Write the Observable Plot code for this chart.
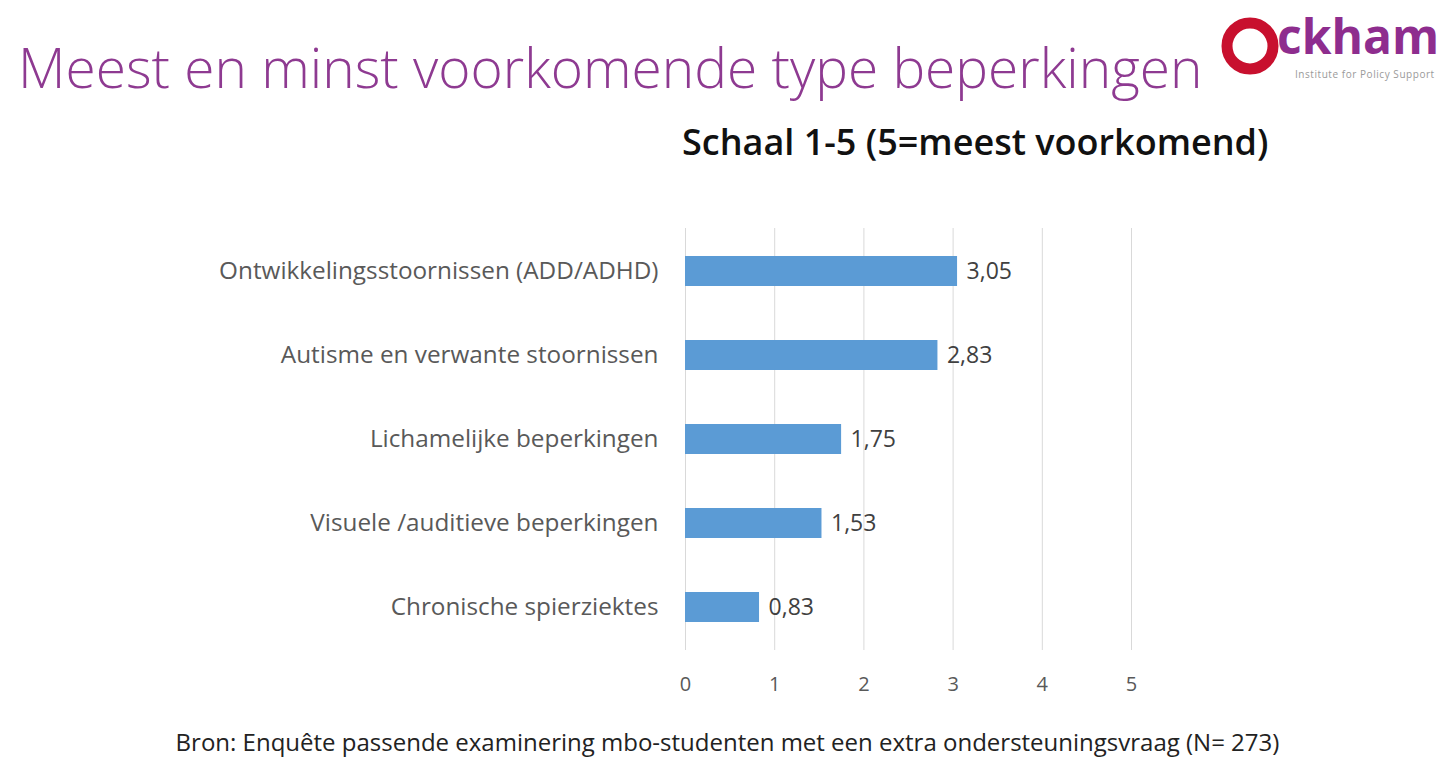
<!DOCTYPE html>
<html>
<head>
<meta charset="utf-8">
<script src="https://cdn.jsdelivr.net/npm/d3@7"></script>
<script src="https://cdn.jsdelivr.net/npm/@observablehq/plot@0.6"></script>
<style>
  html, body { margin: 0; padding: 0; background: #fff; }
  body { width: 1455px; height: 759px; position: relative; overflow: hidden; font-family: "Open Sans", Lato, sans-serif; }
  #title { position: absolute; left: 18px; top: 37px; font-size: 55px; line-height: 60px; font-weight: 300; color: #8E3A91; white-space: nowrap; }
  #subtitle { position: absolute; left: 682px; top: 122px; font-size: 36px; line-height: 40px; font-weight: 600; color: #111; white-space: nowrap; }
  #chart { position: absolute; left: 0; top: 215px; }
  #caption { position: absolute; left: 0; width: 1455px; top: 728px; line-height: 28px; text-align: center; font-size: 24px; color: #222; white-space: nowrap; }
  #ring { position: absolute; left: 1210px; top: 10px; }
  #ckham { position: absolute; left: 1277px; top: 16px; font-size: 48px; line-height: 40px; height: 40px; font-weight: 700; color: #8E2D8E; white-space: nowrap; letter-spacing: 0px; }
  #ips { position: absolute; left: 1295px; top: 69px; font-size: 10px; line-height: 11px; color: #9a9a9a; white-space: nowrap; letter-spacing: 0.55px; }
</style>
</head>
<body>
<div id="title">Meest en minst voorkomende type beperkingen</div>
<svg id="ring" width="70" height="75" viewBox="0 0 70 75">
  <circle cx="40" cy="36" r="23" fill="none" stroke="#C8102E" stroke-width="11"/>
</svg>
<div id="ckham">ckham</div>
<div id="ips">Institute for Policy Support</div>
<div id="subtitle">Schaal 1-5 (5=meest voorkomend)</div>
<div id="chart"></div>
<div id="caption">Bron: Enquête passende examinering mbo-studenten met een extra ondersteuningsvraag (N= 273)</div>
<script>
const categories = [
  "Ontwikkelingsstoornissen (ADD/ADHD)",
  "Autisme en verwante stoornissen",
  "Lichamelijke beperkingen",
  "Visuele /auditieve beperkingen",
  "Chronische spierziektes"
];
const values = [3.05, 2.83, 1.75, 1.53, 0.83];
const xTicks = [0, 1, 2, 3, 4, 5];

const data = categories.map((c, i) => ({category: c, value: values[i]}));
const fmt = v => v.toFixed(2).replace(".", ",");

const chart = Plot.plot({
  width: 1455,
  height: 500,
  marginLeft: 685,
  marginRight: 324,
  marginTop: 13,
  marginBottom: 65,
  style: {fontFamily: "'Open Sans', Lato, sans-serif", background: "transparent"},
  x: {domain: [0, 5], ticks: xTicks},
  y: {domain: categories, paddingInner: 0.645, paddingOuter: 0.32},
  marks: [
    Plot.gridX(xTicks, {stroke: "#d9d9d9", strokeOpacity: 1, strokeWidth: 1}),
    Plot.barX(data, {x: "value", y: "category", fill: "#5B9BD5"}),
    Plot.text(data, {x: "value", y: "category", text: d => fmt(d.value), dx: 9, textAnchor: "start", fontSize: 23, fill: "#404040"}),
    Plot.axisX({ticks: xTicks, tickFormat: d => String(d), tickSize: 0, tickPadding: 26, fontSize: 20, color: "#595959", label: null}),
    Plot.axisY({tickSize: 0, tickPadding: 27, fontSize: 24.3, color: "#595959", label: null})
  ]
});
document.getElementById("chart").appendChild(chart);
</script>
</body>
</html>
